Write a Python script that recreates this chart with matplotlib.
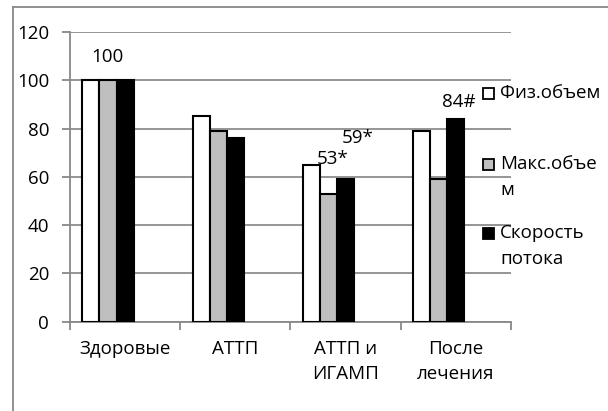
import numpy as np
import matplotlib.pyplot as plt
from matplotlib.lines import Line2D
from matplotlib.patches import Rectangle

plt.rcParams['font.family'] = ['Open Sans', 'DejaVu Sans']

categories = ["Здоровые", "АТТП", "АТТП и\nИГАМП", "После\nлечения"]
series_names = ["Физ.объем", "Макс.объе\nм", "Скорость\nпотока"]
fiz = [100, 85, 65, 79]
maks = [100, 79, 53, 59]
speed = [100, 76, 59, 84]
labels = ["100", "53*", "59*", "84#"]
label_x = [-0.16, 1.88, 2.11, 3.03]
label_y = [109.6, 67.4, 76.1, 91.2]

colors = ["white", "#bfbfbf", "black"]
fs = 13.5

fig = plt.figure(figsize=(6.08, 4.11), dpi=100)
ax = fig.add_axes([70 / 608, 1 - 321.7 / 411, 440.7 / 608, 289.7 / 411])

x = np.arange(len(categories))
w = 0.155
for i, (vals, c) in enumerate(zip([fiz, maks, speed], colors)):
    ax.bar(x + (i - 2) * w, vals, w, color=c, edgecolor="black", linewidth=1.5, zorder=3)

ax.set_xlim(-0.5, 3.5)
ax.set_ylim(0, 120)
ax.set_yticks(range(0, 121, 20))
ax.set_xticks(np.arange(-0.5, 3.6, 1))
ax.set_xticklabels([])
ax.tick_params(axis="x", length=6, color="#888888", width=1.3, direction="out")
ax.tick_params(axis="y", length=6, color="#888888", width=1.3, labelsize=fs, pad=9)
ax.grid(axis="y", color="#8c8c8c", linewidth=1.3, zorder=0)
for s in ["top", "right"]:
    ax.spines[s].set_visible(False)
for s in ["left", "bottom"]:
    ax.spines[s].set_color("#888888")
    ax.spines[s].set_linewidth(1.3)

for i, cat in enumerate(categories):
    ax.text(i, -7.5, cat, ha="center", va="top", fontsize=fs, linespacing=1.5)

for t, lx, ly in zip(labels, label_x, label_y):
    ax.text(lx, ly, t, ha="center", va="center", fontsize=fs)

# legend on the right
leg_y = [93, 164, 233]
for name, c, yy in zip(series_names, colors, leg_y):
    fig.patches.append(Rectangle((483 / 608, 1 - (yy + 6) / 411), 11 / 608, 11 / 411,
                                 facecolor=c, edgecolor="black", linewidth=1.3,
                                 transform=fig.transFigure))
    fig.text(500 / 608, 1 - (yy - 9) / 411, name, ha="left", va="top", fontsize=fs,
             linespacing=1.55)

# outer frame (top and left only)
fig.add_artist(Line2D([13 / 608, 1], [1 - 7 / 411, 1 - 7 / 411], color="#888888", linewidth=1.3))
fig.add_artist(Line2D([13 / 608, 13 / 608], [0, 1 - 7 / 411], color="#888888", linewidth=1.3))

fig.savefig("out.png", dpi=100)
